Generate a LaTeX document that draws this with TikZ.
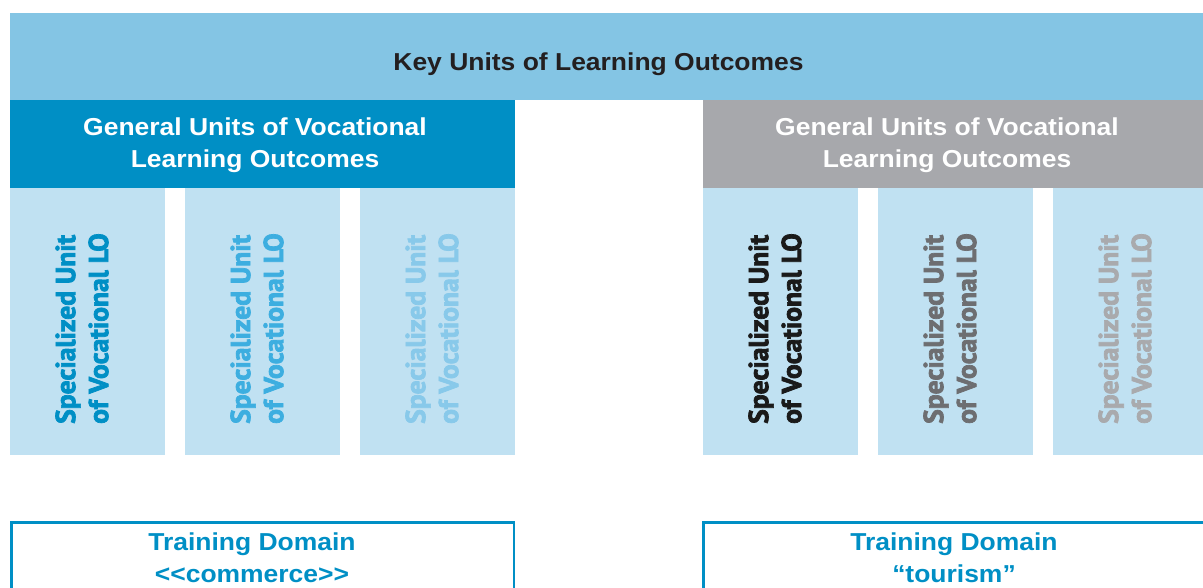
\documentclass[tikz,border=0pt]{standalone}
\usepackage{fontspec}
\setmainfont{Liberation Sans}[FakeStretch=1.08]
\newfontfamily\colfont{PT Sans}[BoldFeatures={FakeBold=2.6}]
\definecolor{topbar}{HTML}{84C5E4}
\definecolor{bluedark}{HTML}{008FC5}
\definecolor{graybox}{HTML}{A7A8AC}
\definecolor{pale}{HTML}{C0E1F2}
\definecolor{titletxt}{HTML}{231F20}
\definecolor{bA}{HTML}{008FC5}
\definecolor{bB}{HTML}{3DAEE0}
\definecolor{bC}{HTML}{88C9EA}
\definecolor{gA}{HTML}{1A1A1A}
\definecolor{gB}{HTML}{6D6E71}
\definecolor{gC}{HTML}{A9AAAD}
\begin{document}
\begin{tikzpicture}[x=1pt,y=-1pt,
  headtxt/.style={font=\bfseries\fontsize{24.5}{32}\selectfont, align=center, inner sep=0pt, anchor=base},
  coltext/.style={font=\colfont\bfseries\fontsize{27.5}{33}\selectfont, align=left, inner sep=0pt, rotate=90, anchor=west},
  domainbox/.style={draw=bluedark, line width=2.5pt},
  domtxt/.style={font=\bfseries\fontsize{24.5}{32}\selectfont, text=bluedark, align=center, inner sep=0pt, anchor=base}]
\useasboundingbox (0,0) rectangle (1203,588);
\clip (0,0) rectangle (1203,588);
% top bar
\fill[topbar] (10,13) rectangle (1215,100);
\node[headtxt, text=titletxt] (key) at (598.5,70.5) {Key Units of Learning Outcomes};
% general boxes
\fill[bluedark] (10,100) rectangle (515,188);
\fill[graybox] (703,100) rectangle (1215,188);
\node[headtxt, text=white] (genL) at (255,167.5) {General Units of Vocational\\Learning Outcomes};
\node[headtxt, text=white] (genR) at (947,167.5) {General Units of Vocational\\Learning Outcomes};
% columns
\foreach \xl in {10,185,360,703,878,1053}{
  \fill[pale] (\xl,188) rectangle ({\xl+155},455);
}
\node[coltext, text=bA] (sL1) at (82,424) {Specialized Unit\\of Vocational LO};
\node[coltext, text=bB] (sL2) at (257,424) {Specialized Unit\\of Vocational LO};
\node[coltext, text=bC] (sL3) at (432,424) {Specialized Unit\\of Vocational LO};
\node[coltext, text=gA] (sR1) at (775,424) {Specialized Unit\\of Vocational LO};
\node[coltext, text=gB] (sR2) at (950,424) {Specialized Unit\\of Vocational LO};
\node[coltext, text=gC] (sR3) at (1125,424) {Specialized Unit\\of Vocational LO};
% domain boxes
\draw[domainbox] (11.25,522.25) rectangle (513.75,620);
\draw[domainbox] (703.25,522.25) rectangle (1230,620);
\node[domtxt] (domL) at (252,582) {Training Domain\\<{}<commerce>{}>};
\node[domtxt] (domR) at (954,582) {Training Domain\\“tourism”};
\end{tikzpicture}
\end{document}
